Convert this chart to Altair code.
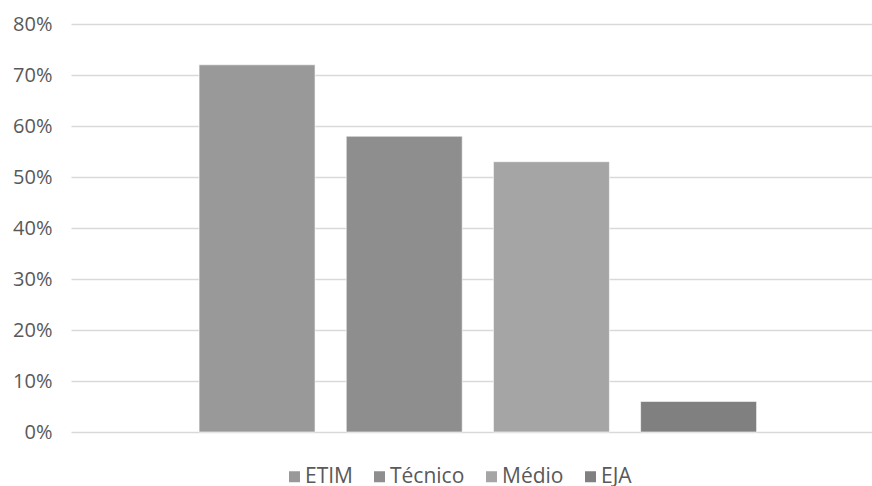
import altair as alt
import pandas as pd

# Share of respondents by course type
categories = ["ETIM", "Técnico", "Médio", "EJA"]
values = [0.72, 0.58, 0.53, 0.06]
colors = ["#999999", "#8e8e8e", "#a5a5a5", "#808080"]
y_ticks = [0, 0.1, 0.2, 0.3, 0.4, 0.5, 0.6, 0.7, 0.8]

df = pd.DataFrame({"curso": categories, "valor": values})

FONT = "Open Sans"
TEXT = "#595959"

bars = (
    alt.Chart(df)
    .mark_bar(stroke="#ffffff", strokeWidth=1, strokeOpacity=0.6)
    .encode(
        x=alt.X(
            "curso:N",
            sort=categories,
            axis=None,
            scale=alt.Scale(paddingInner=0.212, paddingOuter=0.827, align=0.526),
        ),
        y=alt.Y(
            "valor:Q",
            scale=alt.Scale(domain=[0, 0.8], nice=False),
            axis=alt.Axis(
                values=y_ticks,
                format=".0%",
                title=None,
                domain=False,
                ticks=False,
                labelPadding=19,
                labelFont=FONT,
                labelFontSize=20,
                labelColor=TEXT,
                gridColor="#d9d9d9",
                gridWidth=1.3,
            ),
        ),
        color=alt.Color(
            "curso:N",
            sort=categories,
            scale=alt.Scale(domain=categories, range=colors),
            legend=alt.Legend(
                title=None,
                orient="none",
                direction="horizontal",
                legendX=213,
                legendY=442,
                symbolType="square",
                symbolSize=121,
                symbolStrokeWidth=0,
                labelFont=FONT,
                labelFontSize=21,
                labelColor=TEXT,
                labelLimit=200,
                columnPadding=16,
                labelOffset=0,
            ),
        ),
    )
)

chart = (
    bars.properties(
        width=801,
        height=408,
        autosize=alt.AutoSizeParams(type="none"),
        padding={"left": 71, "top": 24, "right": 0, "bottom": 54},
    )
    .configure(background="#ffffff")
    .configure_view(strokeWidth=0, stroke="transparent")
)

chart.save("out.html", embed_options={"renderer": "svg", "actions": False})
